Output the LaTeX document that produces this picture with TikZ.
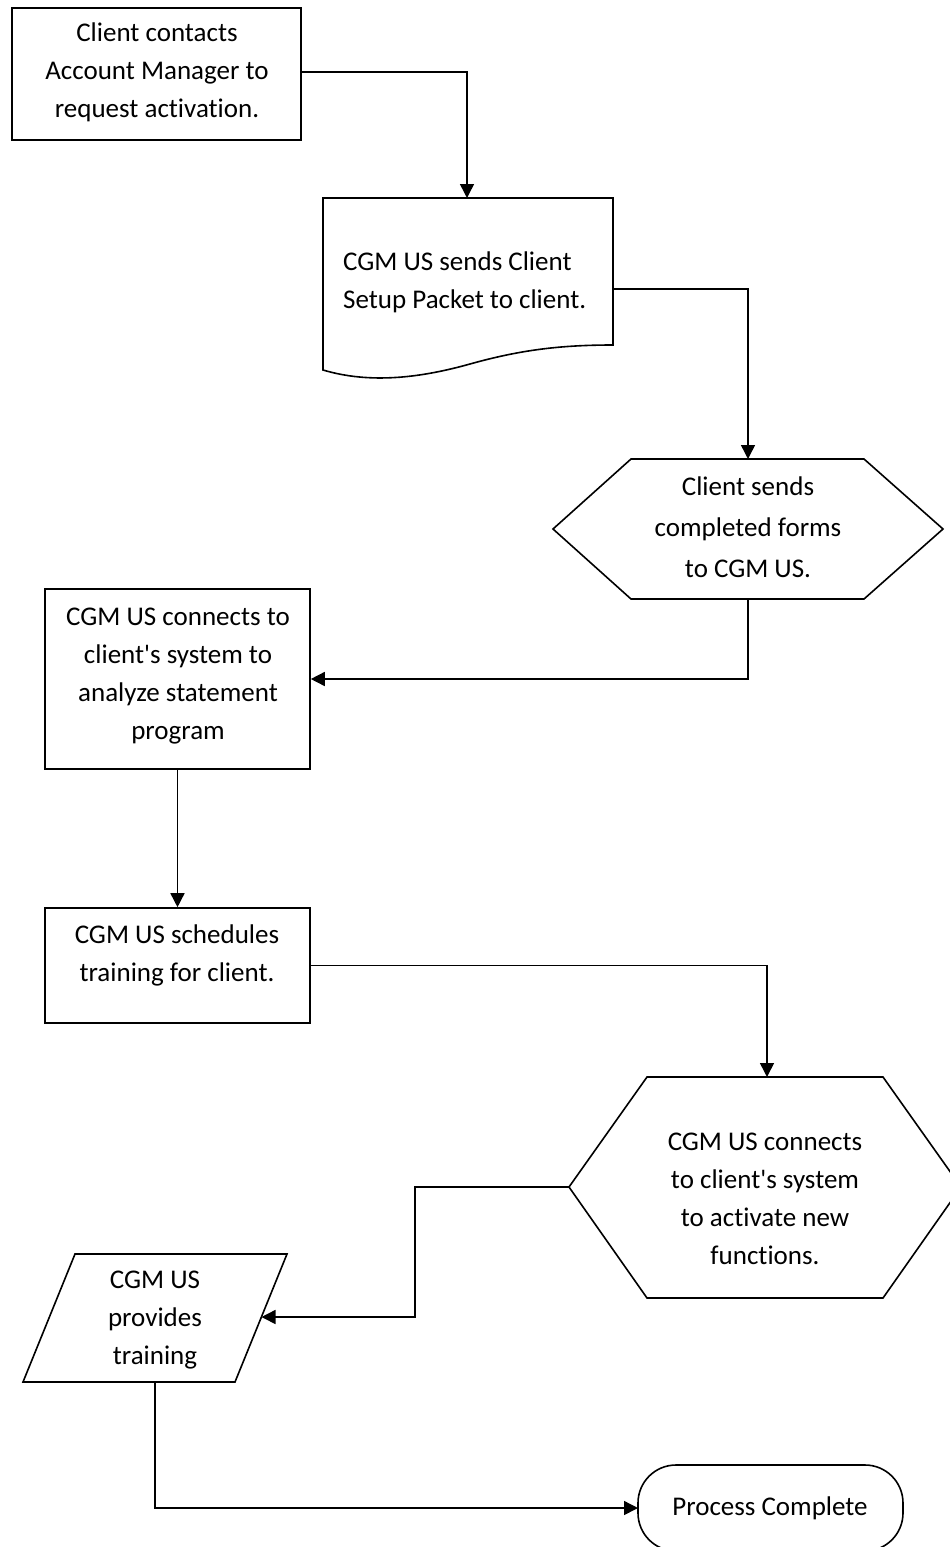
\documentclass[tikz,border=0pt]{standalone}
\usepackage{fontspec}
\setmainfont{Carlito}[Ligatures={NoCommon}]
\usetikzlibrary{arrows.meta}
\begin{document}
\begin{tikzpicture}[x=1pt,y=-1pt,
  shp/.style={draw=black,line width=1.6pt,line join=miter},
  conn/.style={draw=black,line width=1.5pt,-{Triangle[length=14pt,width=14pt]}},
  txt/.style={font=\fontsize{27}{38}\selectfont,align=center,inner sep=0pt},
]
\useasboundingbox (0,0) rectangle (950,1547);
\fill[white] (0,0) rectangle (950,1547);

% Box 1
\node[shp,rectangle,minimum width=289pt,minimum height=132pt,inner sep=0pt] (b1) at (156.5,74) {};
\node[txt] (t1) at (157,72) {Client contacts\\Account Manager to\\request activation.};

% Document shape
\draw[shp] (323,198) -- (613,198) -- (613,345)
  .. controls (560,345) and (520,350) .. (470,364)
  .. controls (420,378) and (370,384) .. (323,370) -- cycle;
\coordinate (dtop) at (467,198);
\coordinate (dright) at (613,289);
\node[txt,align=left,anchor=west] (t2) at (343,282) {CGM US sends Client\\Setup Packet to client.};

% Hexagon 1
\draw[shp] (553,529) -- (631,459) -- (864,459) -- (943,529) -- (864,599) -- (631,599) -- cycle;
\coordinate (h1top) at (748,459);
\coordinate (h1bot) at (748,599);
\node[txt,font=\fontsize{27}{41}\selectfont] (t3) at (748,527) {Client sends\\completed forms\\to CGM US.};

% Box 3
\node[shp,rectangle,minimum width=265pt,minimum height=180pt,inner sep=0pt] (b3) at (177.5,679) {};
\node[txt] (t4) at (178,676) {CGM US connects to\\client\textquotesingle s system to\\analyze statement\\program};

% Box 4
\node[shp,rectangle,minimum width=265pt,minimum height=115pt,inner sep=0pt] (b4) at (177.5,965.5) {};
\node[txt] (t5) at (177,955) {CGM US schedules\\training for client.};

% Hexagon 2
\draw[shp] (569,1187) -- (647,1077) -- (883,1077) -- (961,1187) -- (883,1298) -- (647,1298) -- cycle;
\coordinate (h2top) at (767,1077);
\coordinate (h2left) at (569,1187);
\node[txt] (t6) at (765,1199) {CGM US connects\\to client\textquotesingle s system\\to activate new\\functions.};

% Parallelogram
\draw[shp] (75,1254) -- (287,1254) -- (235,1382) -- (23,1382) -- cycle;
\coordinate (pright) at (261.5,1317);
\coordinate (pbot) at (155,1382);
\node[txt] (t7) at (155,1320) {CGM US\\provides\\training};

% Terminal
\draw[shp,rounded corners=38pt] (638,1465) rectangle (903,1551);
\coordinate (tleft) at (638,1508);
\node[txt] (t8) at (770,1508) {Process Complete};

% Connectors
\coordinate (j6) at (415,1187);
\draw[conn] (b1.east |- 0,72) -| (dtop);
\draw[conn] (dright) -| (h1top);
\draw[conn] (h1bot) |- (b3.east);
\draw[conn] (b3.south) -- (b4.north);
\draw[conn] (b4.east) -| (h2top);
\draw[conn] (h2left) -- (j6) |- (pright);
\draw[conn] (pbot) |- (tleft);
\end{tikzpicture}
\end{document}
